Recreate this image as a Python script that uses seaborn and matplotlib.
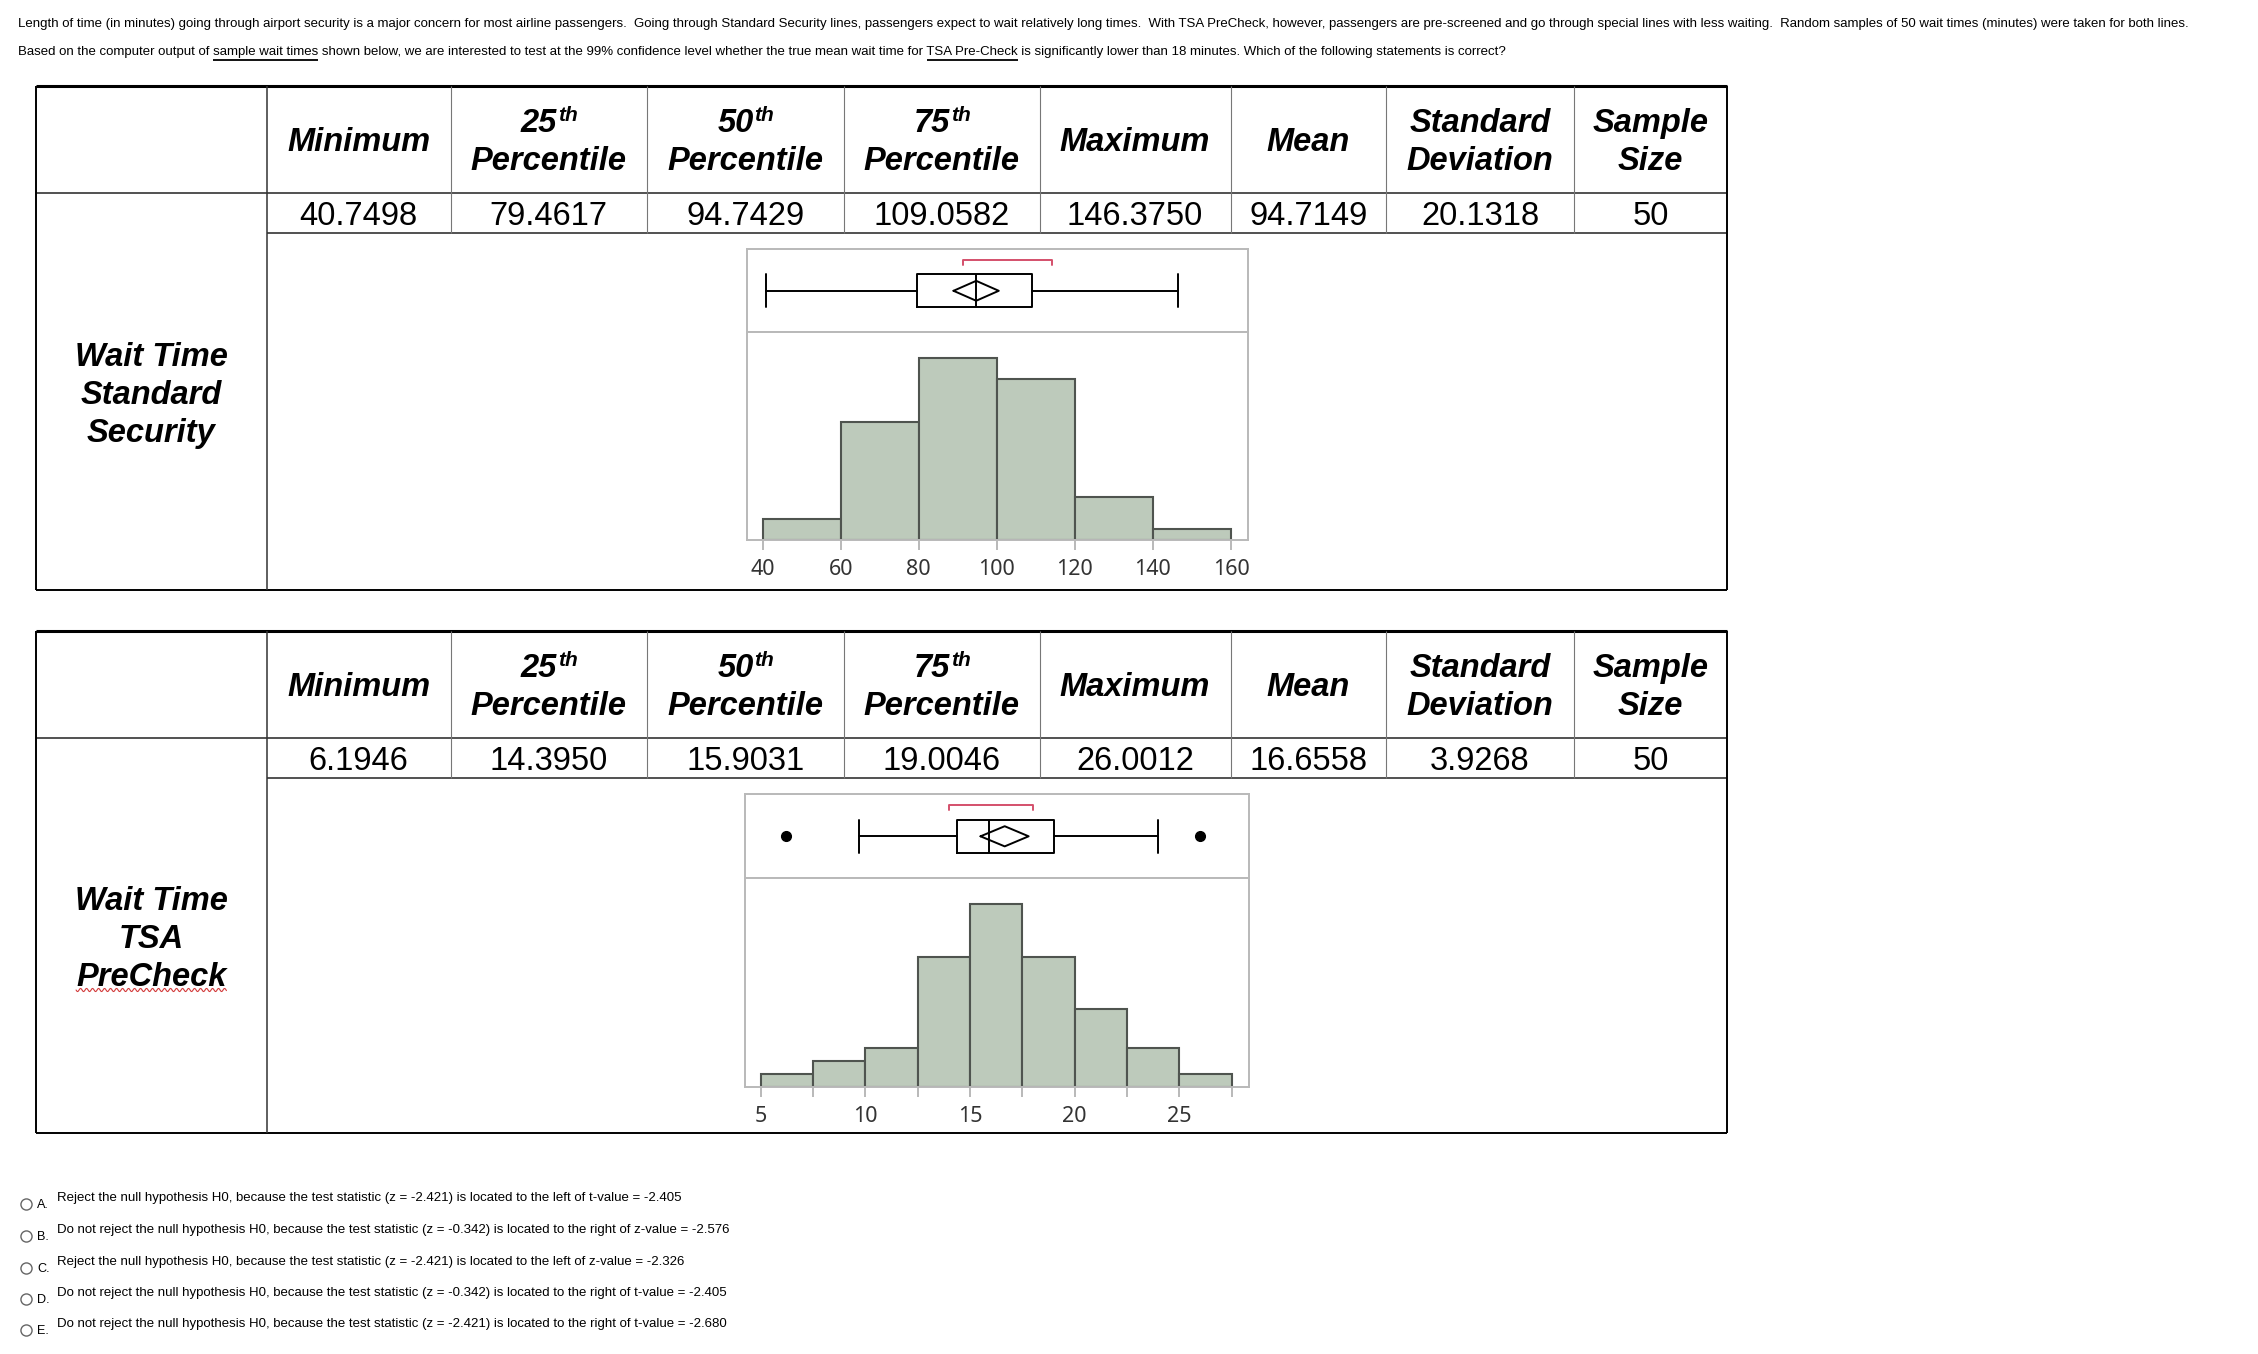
import matplotlib
matplotlib.use("Agg")
import matplotlib.pyplot as plt
from matplotlib.lines import Line2D
import seaborn as sns
import numpy as np

sns.set_style("white")
plt.rcParams["font.family"] = ["Liberation Sans", "DejaVu Sans"]
plt.rcParams["text.color"] = "black"

# ---------------- data ----------------
question_line1 = ("Length of time (in minutes) going through airport security is a major concern for most airline passengers.  "
                  "Going through Standard Security lines, passengers expect to wait relatively long times.  "
                  "With TSA PreCheck, however, passengers are pre-screened and go through special lines with less waiting.  "
                  "Random samples of 50 wait times (minutes) were taken for both lines.")
question_line2 = ["Based on the computer output of ", "sample wait times",
                  " shown below, we are interested to test at the 99% confidence level whether the true mean wait time for ",
                  "TSA Pre-Check",
                  " is significantly lower than 18 minutes. Which of the following statements is correct?"]
underlined = [False, True, False, True, False]

column_names = ["Minimum", "25th Percentile", "50th Percentile", "75th Percentile",
                "Maximum", "Mean", "Standard Deviation", "Sample Size"]
std_values = ["40.7498", "79.4617", "94.7429", "109.0582", "146.3750", "94.7149", "20.1318", "50"]
tsa_values = ["6.1946", "14.3950", "15.9031", "19.0046", "26.0012", "16.6558", "3.9268", "50"]
std_label = ["Wait Time", "Standard", "Security"]
tsa_label = ["Wait Time", "TSA", "PreCheck"]

std_bin_edges = [40, 60, 80, 100, 120, 140, 160]
std_counts = [2, 11, 17, 15, 4, 1]
tsa_bin_edges = [5, 7.5, 10, 12.5, 15, 17.5, 20, 22.5, 25, 27.5]
tsa_counts = [1, 2, 3, 10, 14, 10, 6, 3, 1]
std_ticks = [40, 60, 80, 100, 120, 140, 160]
tsa_ticks = [5, 10, 15, 20, 25]
tsa_minor_ticks = [7.5, 12.5, 17.5, 22.5, 27.5]

std_whiskers = [40.7498, 146.3750]
tsa_whiskers = [9.7, 24.0]
std_outliers = []
tsa_outliers = [6.1946, 26.0012]
std_mean_ci = [88.9, 100.5]
tsa_mean_ci = [15.5, 17.8]
std_shortest_half = [91.4, 114.2]
tsa_shortest_half = [14.0, 18.0]

option_letters = ["A.", "B.", "C.", "D.", "E."]
option_texts = [
    "Reject the null hypothesis H0, because the test statistic (z = -2.421) is located to the left of t-value = -2.405",
    "Do not reject the null hypothesis H0, because the test statistic (z = -0.342) is located to the right of z-value = -2.576",
    "Reject the null hypothesis H0, because the test statistic (z = -2.421) is located to the left of z-value = -2.326",
    "Do not reject the null hypothesis H0, because the test statistic (z = -0.342) is located to the right of t-value = -2.405",
    "Do not reject the null hypothesis H0, because the test statistic (z = -2.421) is located to the right of t-value = -2.680",
]

# ---------------- layout ----------------
W, H = 2258, 1354
fig = plt.figure(figsize=(W / 100, H / 100), dpi=100)
fig.patch.set_facecolor("white")
renderer = fig.canvas.get_renderer()

cols = [36, 266.5, 450.5, 647, 843.5, 1039.5, 1230.5, 1386, 1574, 1727]
bar_fill = "#bdcabb"
bar_edge = "#4f544f"
frame_col = "#b9b9b9"
red = "#d4506b"


def line(xs, ys, lw=1.0, color="black"):
    fig.add_artist(Line2D([x / W for x in xs], [1 - y / H for y in ys],
                          lw=lw, color=color, solid_capstyle="butt"))


def put(x, y, s, **kw):
    return fig.text(x / W, 1 - y / H, s, va="baseline", **kw)


def text_width(s, size, **kw):
    t = fig.text(0, 0, s, fontsize=size, **kw)
    w = t.get_window_extent(renderer).width
    t.remove()
    return w


def width_with_spaces(s, size):
    stripped = s.rstrip(" ")
    space = text_width("a a", size) - text_width("aa", size)
    w = text_width(stripped, size) if stripped else 0
    return w + (len(s) - len(stripped)) * space


# question text
q_size = 10 * 2186 / text_width(question_line1, 10)
put(18, 27, question_line1, fontsize=q_size)
full2 = "".join(question_line2)
put(18, 55, full2, fontsize=q_size)
for i, part in enumerate(question_line2):
    if underlined[i]:
        x0 = 18 + width_with_spaces("".join(question_line2[:i]), q_size)
        x1 = x0 + text_width(part, q_size)
        line([x0, x1], [59.5, 59.5], lw=1.3)


def draw_table(top, bottom, values, label, label_base):
    hdr = top + 107
    val = top + 147
    line([cols[0], cols[-1]], [top, top], lw=2.2)
    line([cols[0], cols[-1]], [hdr, hdr], lw=1.2, color="#333333")
    line([cols[1], cols[-1]], [val, val], lw=1.2, color="#333333")
    line([cols[0], cols[-1]], [bottom, bottom], lw=1.4)
    line([cols[0], cols[0]], [top, bottom], lw=1.4)
    line([cols[-1], cols[-1]], [top, bottom], lw=1.4)
    line([cols[1], cols[1]], [top, bottom], lw=1.1, color="#333333")
    for x in cols[2:-1]:
        line([x, x], [top, val], lw=0.8, color="#777777")

    bi = dict(fontweight="bold", fontstyle="italic")
    for i, name in enumerate(column_names):
        cx = (cols[i + 1] + cols[i + 2]) / 2
        words = name.split(" ")
        if len(words) == 1:
            put(cx, top + 65, name, fontsize=23.5, ha="center", **bi)
        else:
            first = words[0]
            if first.endswith("th") and first[:-2].isdigit():
                num, sup = first[:-2], "th"
                w1 = text_width(num, 23.5, **bi)
                w2 = text_width(sup, 15, **bi)
                x0 = cx - (w1 + w2) / 2
                put(x0, top + 46, num, fontsize=23.5, ha="left", **bi)
                put(x0 + w1 + 1, top + 35, sup, fontsize=15, ha="left", **bi)
            else:
                put(cx, top + 46, first, fontsize=23.5, ha="center", **bi)
            put(cx, top + 84, words[1], fontsize=23.5, ha="center", **bi)
        put(cx, top + 139, values[i], fontsize=23.5, ha="center")

    lx = (cols[0] + cols[1]) / 2
    texts = []
    for s, b in zip(label, label_base):
        texts.append(put(lx, b, s, fontsize=23.5, ha="center", **bi))
    return texts


draw_table(86, 590, std_values, std_label, [366, 404, 442])
tsa_texts = draw_table(631, 1132.5, tsa_values, tsa_label, [910, 948, 986])

# red spell-check squiggle under "PreCheck"
bb = tsa_texts[-1].get_window_extent(renderer)
sx = np.linspace(bb.x0, bb.x1, 200)
sy = 990 + 1.6 * np.sin((sx - bb.x0) * 2 * np.pi / 6)
fig.add_artist(Line2D(sx / W, 1 - sy / H, lw=0.8, color="#d23a3a"))


def draw_panel(box_top, divider, hist_bottom, left, right, xlim, ylim_top,
               edges, counts, ticks, minor, stats, mean, ci, half):
    ax_box = fig.add_axes([left / W, 1 - divider / H, (right - left) / W, (divider - box_top) / H])
    ax_hist = fig.add_axes([left / W, 1 - hist_bottom / H, (right - left) / W, (hist_bottom - divider) / H])

    centers = [(a + b) / 2 for a, b in zip(edges[:-1], edges[1:])]
    sns.histplot(x=centers, weights=counts, bins=edges, ax=ax_hist, color=bar_fill,
                 edgecolor=bar_edge, linewidth=1.5, alpha=1)
    ax_hist.set_xlim(xlim)
    ax_hist.set_ylim(0, ylim_top)
    ax_hist.set_xlabel("")
    ax_hist.set_ylabel("")
    ax_hist.set_yticks([])
    ax_hist.set_xticks(ticks)
    ax_hist.set_xticklabels([str(t) for t in ticks])
    if minor:
        ax_hist.set_xticks(minor, minor=True)
    ax_hist.tick_params(axis="x", which="both", bottom=True, direction="out", length=7,
                        width=1.4, color=frame_col, labelsize=15.5, labelcolor="#333333", pad=6.5)
    for lab in ax_hist.get_xticklabels():
        lab.set_fontfamily("Noto Sans")

    ax_box.bxp([stats], positions=[0.5], widths=0.4, orientation="horizontal",
               showfliers=True, manage_ticks=False, capwidths=0.4,
               boxprops=dict(color="black", lw=1.4),
               whiskerprops=dict(color="black", lw=1.4),
               capprops=dict(color="black", lw=1.4),
               medianprops=dict(color="black", lw=1.4),
               flierprops=dict(marker="o", markerfacecolor="black", markeredgecolor="black", markersize=7))
    ax_box.plot([ci[0], mean, ci[1], mean, ci[0]], [0.5, 0.62, 0.5, 0.38, 0.5], color="black", lw=1.4)
    ax_box.plot([half[0], half[0], half[1], half[1]], [0.81, 0.872, 0.872, 0.81], color=red, lw=1.4)
    ax_box.set_xlim(xlim)
    ax_box.set_ylim(0, 1)
    ax_box.set_xticks([])
    ax_box.set_yticks([])

    for ax in (ax_box, ax_hist):
        for sp in ax.spines.values():
            sp.set_visible(True)
            sp.set_color(frame_col)
            sp.set_linewidth(1.4)


std_stats = dict(med=float(std_values[2]), q1=float(std_values[1]), q3=float(std_values[3]),
                 whislo=std_whiskers[0], whishi=std_whiskers[1], fliers=std_outliers)
tsa_stats = dict(med=float(tsa_values[2]), q1=float(tsa_values[1]), q3=float(tsa_values[3]),
                 whislo=tsa_whiskers[0], whishi=tsa_whiskers[1], fliers=tsa_outliers)

draw_panel(249.3, 332.3, 540, 746.7, 1247.7, (35.9, 164.3), 19.4,
           std_bin_edges, std_counts, std_ticks, None, std_stats, float(std_values[5]),
           std_mean_ci, std_shortest_half)
draw_panel(794.3, 878.3, 1087.3, 745, 1249.3, (4.24, 28.35), 16,
           tsa_bin_edges, tsa_counts, tsa_ticks, tsa_minor_ticks, tsa_stats, float(tsa_values[5]),
           tsa_mean_ci, tsa_shortest_half)

# answer options
opt_size = 10 * 626 / text_width(option_texts[0], 10)
opt_base = [1201, 1233, 1265, 1296, 1327]
for letter, txt, b in zip(option_letters, option_texts, opt_base):
    put(57, b, txt, fontsize=opt_size)
    put(37, b + 7, letter, fontsize=opt_size * 0.95)
    fig.add_artist(Line2D([26 / W], [1 - (b + 3) / H], marker="o", markersize=8,
                          markerfacecolor="white", markeredgecolor="#666666", markeredgewidth=1))

fig.savefig("out.png", dpi=100, facecolor="white")
